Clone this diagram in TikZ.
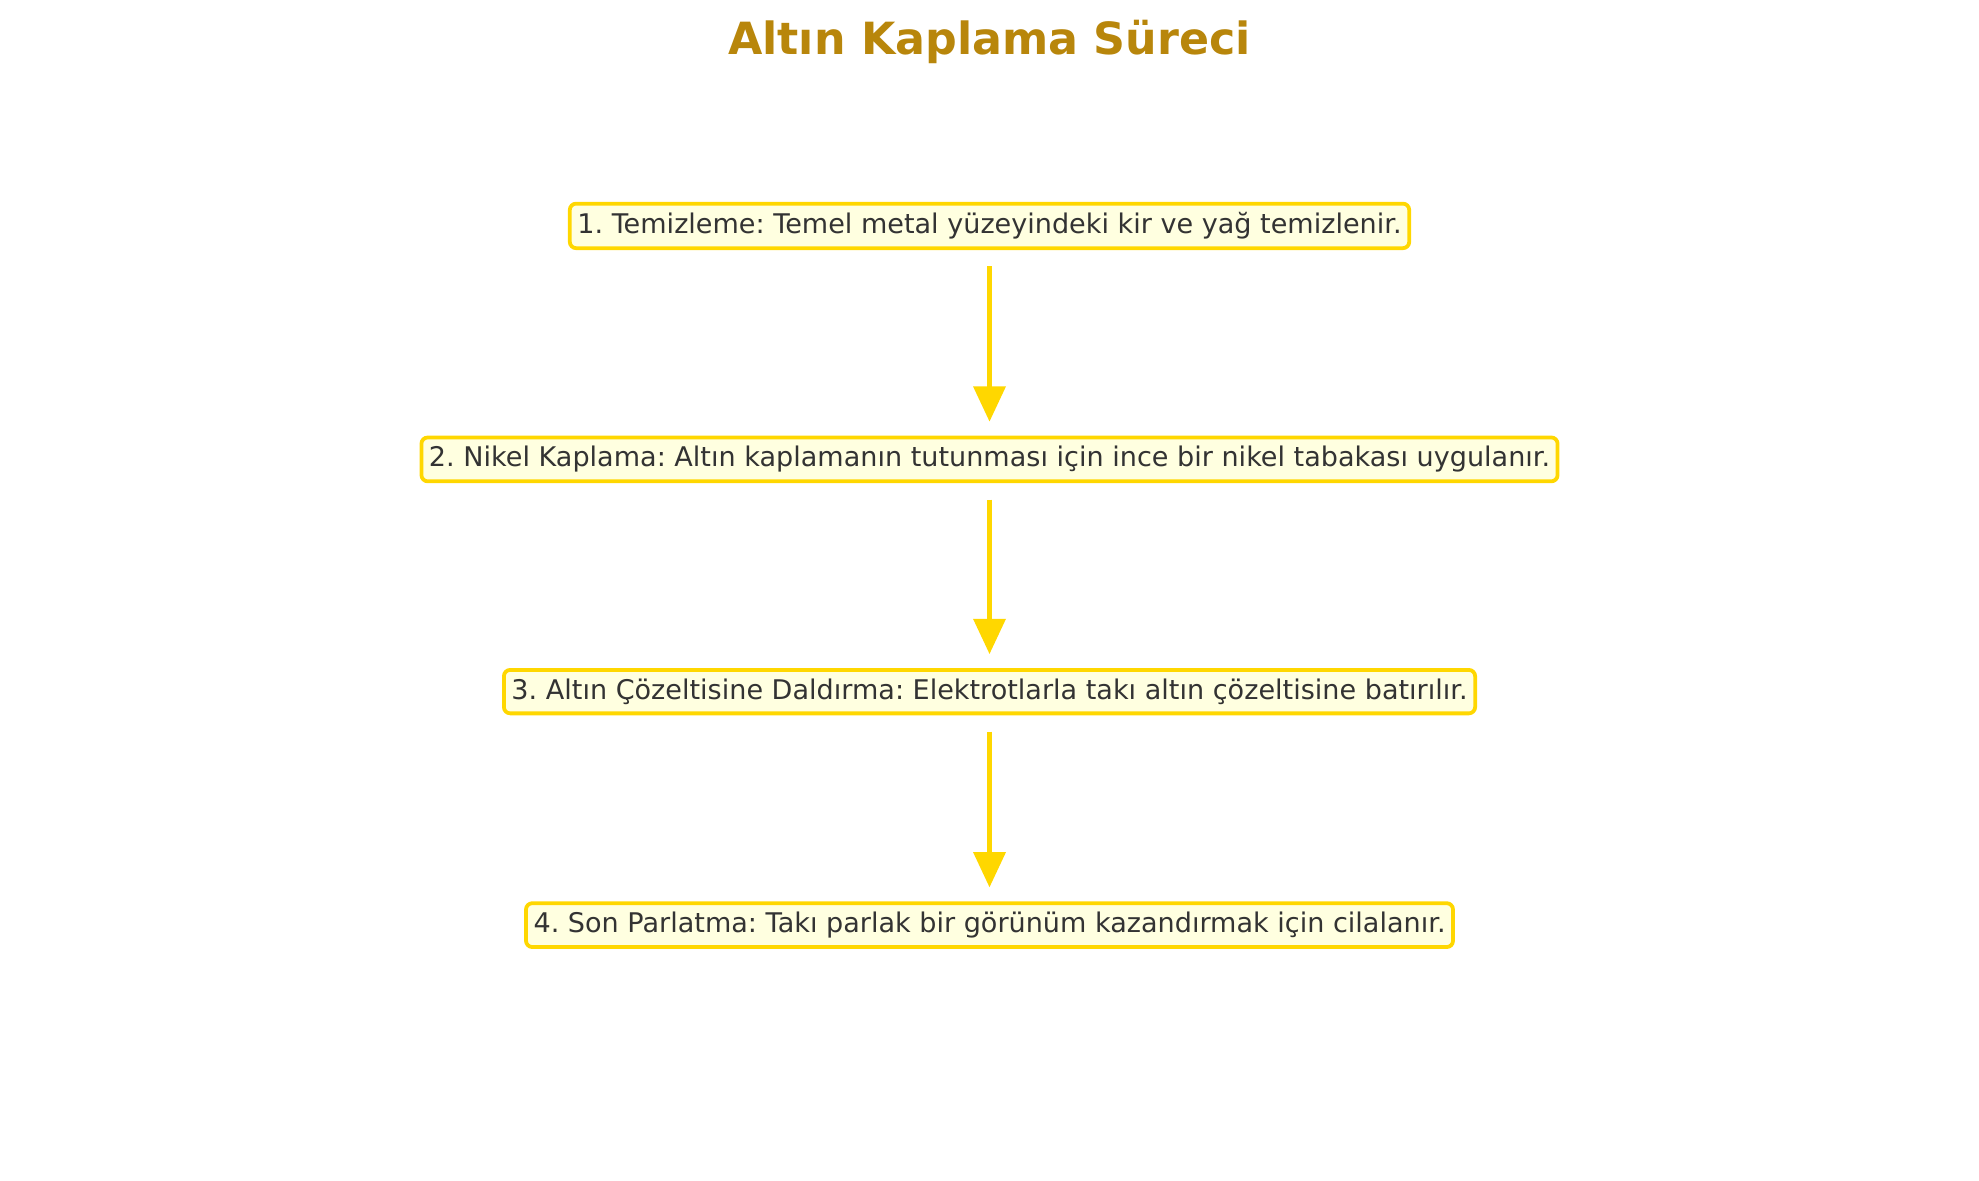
\documentclass[tikz,border=0pt]{standalone}
\usepackage{fontspec}
\setmainfont{DejaVu Sans}
\usetikzlibrary{arrows.meta}
\definecolor{gold}{HTML}{FFD700}
\definecolor{boxfill}{HTML}{FFFFE0}
\definecolor{txt}{HTML}{333333}
\definecolor{titlec}{HTML}{B8860B}
\tikzset{
  stepbox/.style={draw=gold, line width=0.85pt, fill=boxfill, rounded corners=0.05cm,
    text=txt, font=\frenchspacing\fontsize{6.1pt}{7.5pt}\selectfont, inner xsep=0.06cm, inner ysep=0.07cm},
  flow/.style={draw=gold, line width=1.15pt, -{Triangle[length=0.28cm,width=0.25cm]},
    shorten <=0.13cm, shorten >=0.11cm}
}
\begin{document}
\begin{tikzpicture}
\useasboundingbox (0,0) rectangle (15.68,9.35);
\node[text=titlec, font=\bfseries\fontsize{10pt}{12pt}\selectfont] (title) at (7.84,9.02) {Altın Kaplama Süreci};
\node[stepbox] (s1) at (7.84,7.56) {1. Temizleme: Temel metal yüzeyindeki kir ve yağ temizlenir.};
\node[stepbox] (s2) at (7.84,5.71) {2. Nikel Kaplama: Altın kaplamanın tutunması için ince bir nikel tabakası uygulanır.};
\node[stepbox] (s3) at (7.84,3.87) {3. Altın Çözeltisine Daldırma: Elektrotlarla takı altın çözeltisine batırılır.};
\node[stepbox] (s4) at (7.84,2.02) {4. Son Parlatma: Takı parlak bir görünüm kazandırmak için cilalanır.};
\draw[flow] (s1.south) -- (s2.north);
\draw[flow] (s2.south) -- (s3.north);
\draw[flow] (s3.south) -- (s4.north);
\end{tikzpicture}
\end{document}
